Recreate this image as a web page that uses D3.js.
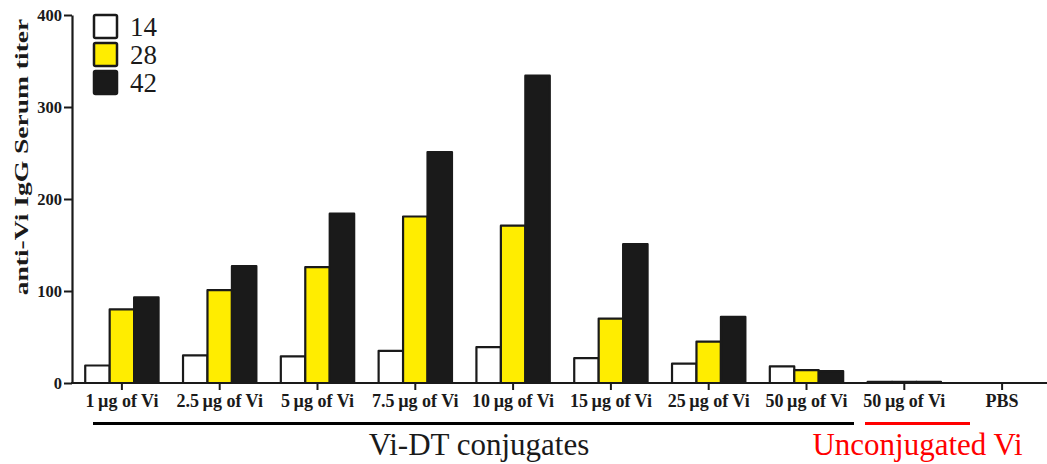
<!DOCTYPE html>
<html>
<head>
<meta charset="utf-8">
<script src="https://cdn.jsdelivr.net/npm/d3@7"></script>
<style>
  html, body { margin: 0; padding: 0; background: #ffffff; }
  svg { display: block; }
</style>
</head>
<body>
<svg id="chart" width="1047" height="464"></svg>
<script>
const categories = ["1\u00b5g of Vi", "2.5\u00b5g of Vi", "5\u00b5g of Vi", "7.5\u00b5g of Vi", "10\u00b5g of Vi",
                    "15\u00b5g of Vi", "25\u00b5g of Vi", "50\u00b5g of Vi", "50\u00b5g of Vi (unconj.)", "PBS"];
const categoryLabels = ["1\u2009\u00b5g of Vi", "2.5\u2009\u00b5g of Vi", "5\u2009\u00b5g of Vi", "7.5\u2009\u00b5g of Vi", "10\u2009\u00b5g of Vi",
                    "15\u2009\u00b5g of Vi", "25\u2009\u00b5g of Vi", "50\u2009\u00b5g of Vi", "50\u2009\u00b5g of Vi", "PBS"];
const seriesNames = ["14", "28", "42"];
const day14 = [19, 30, 29, 35, 39, 27, 21, 18, 1.2, 0];
const day28 = [80, 101, 126, 181, 171, 70, 45, 14, 1.2, 0];
const day42 = [93, 127, 184, 251, 334, 151, 72, 13, 1.2, 0];
const yTicks = [0, 100, 200, 300, 400];
const groupLabels = ["Vi-DT conjugates", "Unconjugated Vi"];
const seriesColors = ["#ffffff", "#ffed00", "#1a1a1a"];

const svg = d3.select("#chart");
const x0 = 73, x1 = 1051, yTop = 15, yBottom = 383;
const serif = "'Liberation Serif', 'Times New Roman', serif";

const x = d3.scaleBand().domain(categories).range([x0, x1]).padding(0);
const xInner = d3.scaleBand().domain(seriesNames)
  .range([0, x.bandwidth() * 0.75]);
const y = d3.scaleLinear().domain([0, 400]).range([yBottom, yTop]);

const seriesValues = [day14, day28, day42];
const data = [];
categories.forEach((c, i) => {
  seriesNames.forEach((s, j) => data.push({cat: c, series: s, idx: j, value: seriesValues[j][i]}));
});

// bars
const groupOffset = x.bandwidth() * 0.125;
svg.append("g").selectAll("rect")
  .data(data.filter(d => d.value > 0))
  .join("rect")
  .attr("x", d => x(d.cat) + groupOffset + xInner(d.series))
  .attr("y", d => y(d.value))
  .attr("width", xInner.bandwidth())
  .attr("height", d => yBottom - y(d.value))
  .attr("fill", d => seriesColors[d.idx])
  .attr("stroke", "#1a1a1a")
  .attr("stroke-width", 2.2)
  .attr("stroke-linejoin", "round");

// y axis
const yAxis = svg.append("g")
  .attr("transform", `translate(${x0 - 1},0)`)
  .call(d3.axisLeft(y).tickValues(yTicks).tickSize(8).tickPadding(2).tickSizeOuter(0));
yAxis.select(".domain").attr("stroke", "#1a1a1a").attr("stroke-width", 2.2);
yAxis.selectAll(".tick line").attr("stroke", "#1a1a1a").attr("stroke-width", 2);
yAxis.selectAll(".tick text")
  .attr("font-family", serif)
  .attr("font-weight", "bold").attr("font-size", 16.5).attr("fill", "#1a1a1a");

// x axis
const xAxis = svg.append("g")
  .attr("transform", `translate(0,${yBottom})`)
  .call(d3.axisBottom(x).tickSize(7).tickPadding(4).tickSizeOuter(0)
        .tickFormat((d, i) => categoryLabels[i]));
xAxis.select(".domain").attr("stroke", "#1a1a1a").attr("stroke-width", 2.2)
  .attr("d", `M${x0 - 2},0H1047`);
xAxis.selectAll(".tick line").attr("stroke", "#1a1a1a").attr("stroke-width", 2);
xAxis.selectAll(".tick text")
  .attr("font-family", serif)
  .attr("font-weight", "bold").attr("font-size", 18).attr("fill", "#1a1a1a");

// y title (stretched along its length like the reference)
svg.append("text")
  .attr("transform", `translate(28,157) rotate(-90) scale(1.45,1)`)
  .attr("text-anchor", "middle")
  .attr("font-family", serif)
  .attr("font-weight", "bold").attr("font-size", 19).attr("fill", "#1a1a1a")
  .text("anti-Vi IgG Serum titer");

// legend
const legend = svg.append("g").attr("transform", "translate(93,14)");
seriesNames.forEach((s, i) => {
  const g = legend.append("g").attr("transform", `translate(0,${i * 28})`);
  g.append("rect").attr("x", 1).attr("y", 1).attr("width", 23).attr("height", 23).attr("rx", 1.5)
    .attr("fill", seriesColors[i]).attr("stroke", "#1a1a1a").attr("stroke-width", 2.5);
  g.append("text").attr("x", 37).attr("y", 22)
    .attr("font-family", serif)
    .attr("font-size", 27).attr("fill", "#1a1a1a").text(s);
});

// group brackets
svg.append("line").attr("x1", 93).attr("x2", 854)
  .attr("y1", 423.5).attr("y2", 423.5).attr("stroke", "#000").attr("stroke-width", 3);
svg.append("line").attr("x1", 865).attr("x2", 970)
  .attr("y1", 423.5).attr("y2", 423.5).attr("stroke", "#ff0000").attr("stroke-width", 3);

svg.append("text").attr("x", 479).attr("y", 454.5).attr("text-anchor", "middle")
  .attr("font-family", serif)
  .attr("font-size", 31).attr("fill", "#1a1a1a").text(groupLabels[0]);
svg.append("text").attr("x", 917.5).attr("y", 454.5).attr("text-anchor", "middle")
  .attr("font-family", serif)
  .attr("font-size", 31).attr("fill", "#ff0000").text(groupLabels[1]);
</script>
</body>
</html>
